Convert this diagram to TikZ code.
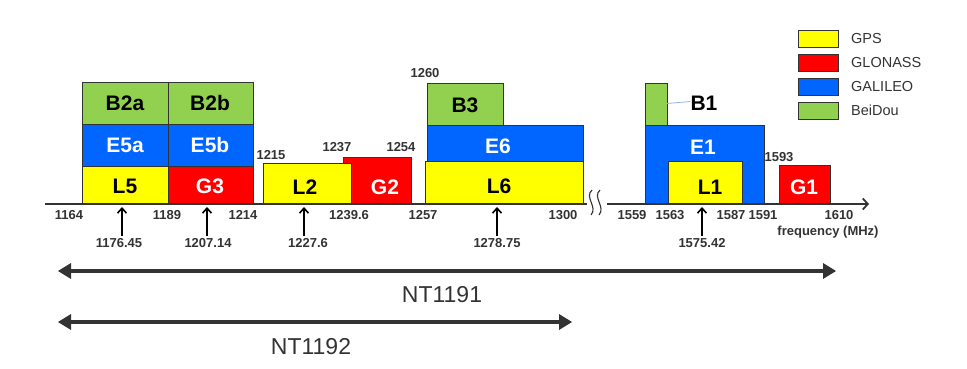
\documentclass[tikz,border=0pt]{standalone}
\usepackage{fontspec}
\setmainfont{Liberation Sans}
\usetikzlibrary{arrows.meta}
\definecolor{gpsY}{HTML}{FFFF00}
\definecolor{gloR}{HTML}{FF0000}
\definecolor{galB}{HTML}{0066FF}
\definecolor{beiG}{HTML}{92D050}
\definecolor{ink}{HTML}{333333}
\definecolor{lnk}{HTML}{8EB4E3}
\newcommand\bandbox[6]{\node[band,fill=#2,anchor=north west,minimum width={(#5-#3)*1pt},minimum height={(#6-#4)*1pt}] (#1) at (#3,#4) {};}
\begin{document}
\begin{tikzpicture}[x=1pt,y=-1pt,
  band/.style={draw=ink,line width=0.9pt,inner sep=0pt,outer sep=0pt},
  blab/.style={font=\fontsize{21}{21}\selectfont\bfseries,inner sep=0pt},
  dlab/.style={blab,text=black},
  wlab/.style={blab,text=white},
  tick/.style={font=\fontsize{13}{13}\selectfont\bfseries,text=ink,inner sep=0pt},
  legtxt/.style={font=\fontsize{14.5}{14.5}\selectfont,text=ink,inner sep=0pt,anchor=west},
  ntlab/.style={font=\fontsize{23}{23}\selectfont,text=ink,inner sep=0pt},
  uparr/.style={draw=black,line width=1.6pt,-{Straight Barb[length=5pt,width=9pt]}},
  axis/.style={draw=ink,line width=1.8pt},
  dbl/.style={draw=ink,line width=4pt,{Triangle[length=13pt,width=16pt,line width=0pt]}-{Triangle[length=13pt,width=16pt,line width=0pt]}}]
\useasboundingbox (0,0) rectangle (967,369);
% boxes
\bandbox{bB2a}{beiG}{82}{82}{168}{124}
\bandbox{bB2b}{beiG}{168}{82}{253}{124}
\bandbox{bE5a}{galB}{82}{124}{168}{166}
\bandbox{bE5b}{galB}{168}{124}{253}{166}
\bandbox{bL5}{gpsY}{82}{166}{168}{204}
\bandbox{bG3}{gloR}{168}{166}{253}{204}
\bandbox{bG2}{gloR}{343}{157}{411}{204}
\bandbox{bL2}{gpsY}{263}{163}{351}{204}
\bandbox{bB3}{beiG}{427}{83}{503}{125}
\bandbox{bE6}{galB}{427}{125}{583}{161}
\bandbox{bL6}{gpsY}{425}{161}{583}{204}
\bandbox{bE1}{galB}{645}{125}{764}{204}
\bandbox{bB1}{beiG}{645}{83}{667}{125}
\bandbox{bL1}{gpsY}{668}{161}{742}{204}
\bandbox{bG1}{gloR}{779}{165}{830}{204}
% box labels
\node[dlab] (tB2a) at (125,103) {B2a};
\node[dlab] (tB2b) at (210,103) {B2b};
\node[wlab] (tE5a) at (125,145) {E5a};
\node[wlab] (tE5b) at (210,145) {E5b};
\node[dlab] (tL5) at (125,186) {L5};
\node[wlab] (tG3) at (210,186) {G3};
\node[dlab] (tL2) at (305,187) {L2};
\node[wlab] (tG2) at (385,187) {G2};
\node[dlab] (tB3) at (465,105) {B3};
\node[wlab] (tE6) at (498,146) {E6};
\node[dlab] (tL6) at (499,186) {L6};
\node[wlab] (tE1) at (703,147) {E1};
\node[dlab] (tL1) at (710,187) {L1};
\node[wlab] (tG1) at (804,187) {G1};
\node[dlab] (tB1) at (704,103) {B1};
\draw[lnk,line width=0.8pt] (bB1.east |- 0,103.5) -- (tB1.west |- 0,101.5);
% axis
\coordinate (ax0) at (45,204);
\coordinate (ax1) at (587,204);
\coordinate (ax2) at (607,204);
\coordinate (ax3) at (869,204);
\draw[axis] (ax0) -- (ax1);
\draw[axis,-{Straight Barb[length=5pt,width=11pt]}] (ax2) -- (ax3);
\draw[ink,line width=1.1pt] (592,190) .. controls (584,197) and (598,207) .. (591,215);
\draw[ink,line width=1.1pt] (600,190) .. controls (592,197) and (606,207) .. (599,215);
% tick labels
\node[tick] (k1164) at (69,215) {1164};
\node[tick] (k1189) at (167,215) {1189};
\node[tick] (k1214) at (243,215) {1214};
\node[tick] (k1239) at (349,215) {1239.6};
\node[tick] (k1257) at (423,215) {1257};
\node[tick] (k1300) at (563,215) {1300};
\node[tick] (k1559) at (632,215) {1559};
\node[tick] (k1563) at (670,215) {1563};
\node[tick] (k1587) at (731,215) {1587};
\node[tick] (k1591) at (763,215) {1591};
\node[tick] (k1610) at (839,215) {1610};
\node[tick] (kfreq) at (828,232) {frequency (MHz)};
\node[tick] (k1215) at (271,155) {1215};
\node[tick] (k1237) at (337,147) {1237};
\node[tick] (k1254) at (401,147) {1254};
\node[tick] (k1260) at (425,73) {1260};
\node[tick] (k1593) at (779,157) {1593};
% centre frequencies
\node[tick] (c1) at (119,243) {1176.45};
\node[tick] (c2) at (208,243) {1207.14};
\node[tick] (c3) at (308,243) {1227.6};
\node[tick] (c4) at (497,243) {1278.75};
\node[tick] (c5) at (702,243) {1575.42};
\coordinate (a1) at (122,207);
\coordinate (a2) at (207,207);
\coordinate (a3) at (304,207);
\coordinate (a4) at (497,207);
\coordinate (a5) at (702,207);
\draw[uparr] (a1 |- c1.north) ++(0,-2) -- (a1);
\draw[uparr] (a2 |- c2.north) ++(0,-2) -- (a2);
\draw[uparr] (a3 |- c3.north) ++(0,-2) -- (a3);
\draw[uparr] (a4 |- c4.north) ++(0,-2) -- (a4);
\draw[uparr] (a5 |- c5.north) ++(0,-2) -- (a5);
% legend
\bandbox{lg1}{gpsY}{798}{30}{838}{47}
\bandbox{lg2}{gloR}{798}{54}{838}{71}
\bandbox{lg3}{galB}{798}{78}{838}{95}
\bandbox{lg4}{beiG}{798}{102}{838}{119}
\node[legtxt] (lt1) at (851,39) {GPS};
\node[legtxt] (lt2) at (851,62.5) {GLONASS};
\node[legtxt] (lt3) at (851,86.5) {GALILEO};
\node[legtxt] (lt4) at (851,110.5) {BeiDou};
% coverage arrows
\coordinate (n1l) at (58,271);
\coordinate (n1r) at (836,271);
\coordinate (n2l) at (58,322);
\coordinate (n2r) at (572,322);
\draw[dbl] (n1l) -- (n1r);
\draw[dbl] (n2l) -- (n2r);
\node[ntlab] (nt1) at (442,295) {NT1191};
\node[ntlab] (nt2) at (311,347) {NT1192};
\end{tikzpicture}
\end{document}
